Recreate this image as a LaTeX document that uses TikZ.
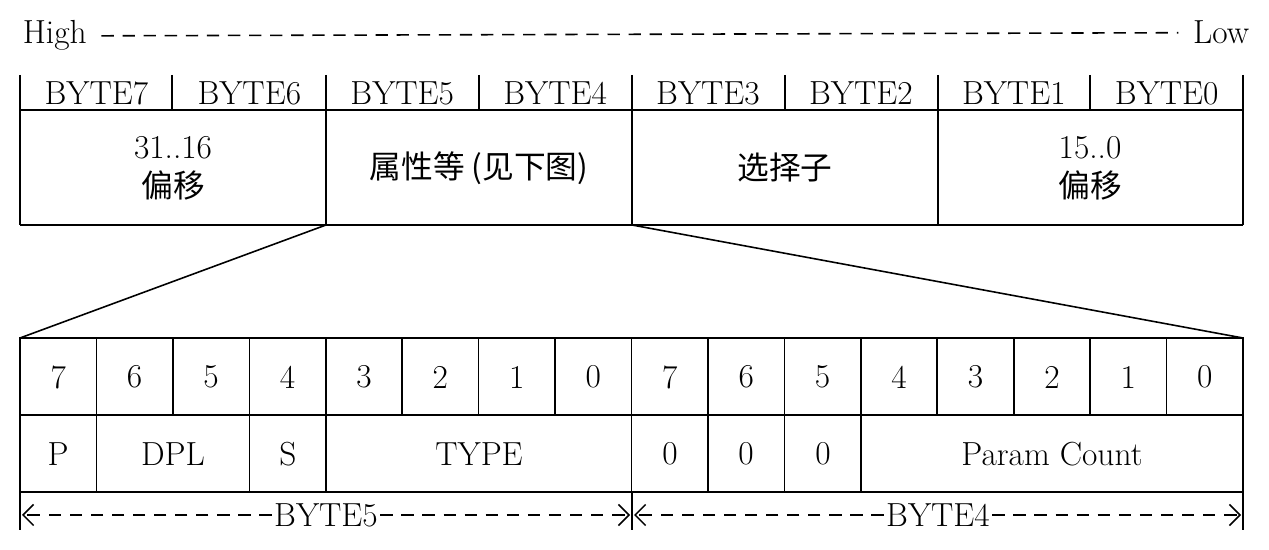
\documentclass[tikz,border=0pt]{standalone}
\usepackage{fontspec}
\newfontfamily\cjk{Noto Sans CJK SC}[Scale=0.95]
\usetikzlibrary{arrows.meta}
\begin{document}
\begin{tikzpicture}[x=0.02cm,y=-0.02cm,line width=0.9pt,
  lbl/.style={inner sep=0pt,font=\fontsize{19}{22}\selectfont,align=center},
  dsh/.style={dash pattern=on 7pt off 5pt}]
\useasboundingbox (0,0) rectangle (1269,550);
% top
\node[lbl,anchor=base west] (hi) at (22,44) {High};
\node[lbl,anchor=base east] (lo) at (1250,44) {Low};
\draw[dsh] ([xshift=8pt]hi.east) -- ([xshift=-8pt]lo.west);
\foreach \x in {20,172,326,479,632,785,938,1090,1243} \draw (\x,75) -- (\x,110);
\draw (20,110) -- (1243,110);
\draw (20,225) -- (1243,225);
\foreach \x in {20,326,632,938,1243} \draw (\x,110) -- (\x,225);
\foreach \i/\t in {0/BYTE7,1/BYTE6,2/BYTE5,3/BYTE4,4/BYTE3,5/BYTE2,6/BYTE1,7/BYTE0}
  \node[lbl] (b\i) at ({20+152.9*\i+76.4},93) {\t};
\node[lbl] (f1) at (173,168) {31..16\\\cjk 偏移};
\node[lbl] (f2) at (479,168) {\cjk 属性等 (见下图)};
\node[lbl] (f3) at (785,168) {\cjk 选择子};
\node[lbl] (f4) at (1090,168) {15..0\\\cjk 偏移};
% funnel
\draw (326,225) -- (20,338);
\draw (632,225) -- (1243,338);
% lower table
\draw (20,338) rectangle (1243,492);
\draw (20,415) -- (1243,415);
\foreach \i in {1,...,15} \draw ({20+76.44*\i},338) -- ({20+76.44*\i},415);
\foreach \i in {1,3,4,8,9,10,11} \draw ({20+76.44*\i},415) -- ({20+76.44*\i},492);
\foreach \i/\d in {0/7,1/6,2/5,3/4,4/3,5/2,6/1,7/0,8/7,9/6,10/5,11/4,12/3,13/2,14/1,15/0}
  \node[lbl] (d\i) at ({20+76.44*\i+38.2},377) {\d};
\node[lbl] (p) at (58,454) {P};
\node[lbl] (dpl) at (173,454) {DPL};
\node[lbl] (s) at (288,454) {S};
\node[lbl] (ty) at (479,454) {TYPE};
\node[lbl] (z1) at (670,454) {0};
\node[lbl] (z2) at (746,454) {0};
\node[lbl] (z3) at (823,454) {0};
\node[lbl] (pc) at (1052,454) {Param Count};
% bottom arrows
\foreach \x in {20,632,1243} \draw (\x,492) -- (\x,530);
\node[lbl,fill=white,inner xsep=1pt] (by5) at (326,515) {BYTE5};
\node[lbl,fill=white,inner xsep=1pt] (by4) at (938,515) {BYTE4};
\draw[dsh,-{Straight Barb[length=6pt]}] (by5.west) -- (22,515);
\draw[dsh,-{Straight Barb[length=6pt]}] (by5.east) -- (630,515);
\draw[dsh,-{Straight Barb[length=6pt]}] (by4.west) -- (634,515);
\draw[dsh,-{Straight Barb[length=6pt]}] (by4.east) -- (1241,515);
\end{tikzpicture}
\end{document}
